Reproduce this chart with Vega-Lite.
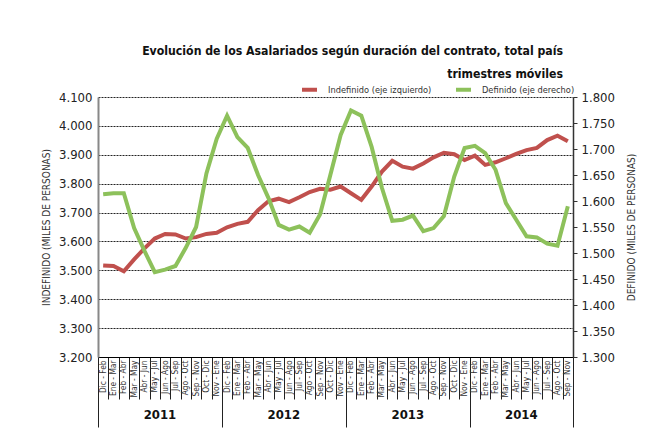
{
  "$schema": "https://vega.github.io/schema/vega-lite/v6.json",
  "width": 475,
  "height": 260,
  "autosize": {"type": "none"},
  "padding": {"left": 98, "top": 97, "right": 72, "bottom": 84},
  "background": "white",
  "title": {
    "text": ["Evolución de los Asalariados según duración del contrato, total país", "trimestres móviles"],
    "anchor": "end",
    "frame": "group",
    "fontSize": 12.2,
    "font": "DejaVu Sans Condensed, Liberation Sans, sans-serif",
    "fontWeight": "bold",
    "color": "#111",
    "offset": 0,
    "dx": -10,
    "lineHeight": 23
  },
  "config": {
    "font": "DejaVu Sans Condensed, Liberation Sans, sans-serif",
    "view": {"stroke": null},
    "axis": {"labelColor": "#222", "titleColor": "#333", "titleFontWeight": "normal"}
  },
  "datasets": {
    "series": [
      {"per": "Dic - Feb 2011", "ind": 3517, "def": 1613},
      {"per": "Ene - Mar 2011", "ind": 3515, "def": 1615},
      {"per": "Feb - Abr 2011", "ind": 3497, "def": 1615},
      {"per": "Mar - May 2011", "ind": 3538, "def": 1548},
      {"per": "Abr - Jun 2011", "ind": 3576, "def": 1504},
      {"per": "May - Jul 2011", "ind": 3610, "def": 1463},
      {"per": "Jun - Ago 2011", "ind": 3626, "def": 1468},
      {"per": "Jul - Sep 2011", "ind": 3624, "def": 1475},
      {"per": "Ago - Oct 2011", "ind": 3610, "def": 1510},
      {"per": "Sep - Nov 2011", "ind": 3615, "def": 1550},
      {"per": "Oct - Dic 2011", "ind": 3626, "def": 1653},
      {"per": "Nov - Ene 2011", "ind": 3630, "def": 1720},
      {"per": "Dic - Feb 2012", "ind": 3649, "def": 1764},
      {"per": "Ene - Mar 2012", "ind": 3661, "def": 1723},
      {"per": "Feb - Abr 2012", "ind": 3668, "def": 1702},
      {"per": "Mar - May 2012", "ind": 3708, "def": 1650},
      {"per": "Abr - Jun 2012", "ind": 3739, "def": 1606},
      {"per": "May - Jul 2012", "ind": 3748, "def": 1554},
      {"per": "Jun - Ago 2012", "ind": 3736, "def": 1545},
      {"per": "Jul - Sep 2012", "ind": 3753, "def": 1551},
      {"per": "Ago - Oct 2012", "ind": 3771, "def": 1539},
      {"per": "Sep - Nov 2012", "ind": 3782, "def": 1574},
      {"per": "Oct - Dic 2012", "ind": 3779, "def": 1650},
      {"per": "Nov - Ene 2012", "ind": 3790, "def": 1727},
      {"per": "Dic - Feb 2013", "ind": 3767, "def": 1774},
      {"per": "Ene - Mar 2013", "ind": 3744, "def": 1764},
      {"per": "Feb - Abr 2013", "ind": 3790, "def": 1704},
      {"per": "Mar - May 2013", "ind": 3842, "def": 1625},
      {"per": "Abr - Jun 2013", "ind": 3879, "def": 1562},
      {"per": "May - Jul 2013", "ind": 3859, "def": 1564},
      {"per": "Jun - Ago 2013", "ind": 3852, "def": 1572},
      {"per": "Jul - Sep 2013", "ind": 3870, "def": 1542},
      {"per": "Ago - Oct 2013", "ind": 3891, "def": 1548},
      {"per": "Sep - Nov 2013", "ind": 3907, "def": 1571},
      {"per": "Oct - Dic 2013", "ind": 3902, "def": 1647},
      {"per": "Nov - Ene 2013", "ind": 3882, "def": 1702},
      {"per": "Dic - Feb 2014", "ind": 3897, "def": 1706},
      {"per": "Ene - Mar 2014", "ind": 3865, "def": 1692},
      {"per": "Feb - Abr 2014", "ind": 3874, "def": 1660},
      {"per": "Mar - May 2014", "ind": 3888, "def": 1596},
      {"per": "Abr - Jun 2014", "ind": 3903, "def": 1564},
      {"per": "May - Jul 2014", "ind": 3916, "def": 1532},
      {"per": "Jun - Ago 2014", "ind": 3924, "def": 1530},
      {"per": "Jul - Sep 2014", "ind": 3951, "def": 1518},
      {"per": "Ago - Oct 2014", "ind": 3966, "def": 1514},
      {"per": "Sep - Nov 2014", "ind": 3947, "def": 1590}
    ],
    "years": [
      {"per": "May - Jul 2011", "year": "2011"},
      {"per": "May - Jul 2012", "year": "2012"},
      {"per": "May - Jul 2013", "year": "2013"},
      {"per": "Abr - Jun 2014", "year": "2014"}
    ]
  },
  "data": {"name": "series"},
  "layer": [
    {
      "layer": [
        {
          "mark": {"type": "line", "strokeWidth": 4},
          "encoding": {
            "x": {
              "field": "per", "type": "ordinal", "sort": null,
              "scale": {"type": "band", "paddingInner": 0, "paddingOuter": 0},
              "axis": {
                "title": null,
                "labelAngle": 270,
                "labelAlign": "right",
                "labelBaseline": "middle",
                "labelExpr": "datum.value ? slice(datum.value, 0, -5) : ''",
                "labelFontSize": 8.3,
                "labelColor": "#333",
                "tickBand": "extent",
                "tickColor": "#222",
                "tickSize": {"condition": {"test": "!datum.value || indexof(datum.value, 'Nov - Ene') == 0 || datum.value == 'Sep - Nov 2014'", "value": 70}, "value": 42},
                "labelPadding": {"condition": {"test": "!datum.value || indexof(datum.value, 'Nov - Ene') == 0 || datum.value == 'Sep - Nov 2014'", "value": -67}, "value": -39},
                "domainColor": "#000",
                "grid": false
              }
            },
            "y": {
              "field": "ind", "type": "quantitative",
              "scale": {"domain": [3200, 4100], "nice": false, "zero": false},
              "axis": {
                "title": "INDEFINIDO (MILES DE PERSONAS)",
                "titleFontSize": 10,
                "titlePadding": 7,
                "values": [3200, 3300, 3400, 3500, 3600, 3700, 3800, 3900, 4000, 4100],
                "labelExpr": "replace(format(datum.value, ','), ',', '.')",
                "labelOverlap": false,
                "labelFontSize": 13,
                "labelPadding": 6,
                "grid": true,
                "gridDash": [2, 1],
                "gridColor": "#222",
                "gridWidth": 1,
                "ticks": false,
                "domainColor": "#888",
                "domainWidth": 2
              }
            },
            "color": {
              "datum": "Indefinido (eje izquierdo)", "type": "nominal",
              "scale": {"domain": ["Indefinido (eje izquierdo)", "Definido (eje derecho)"], "range": ["#c0504d", "#8dc15b"]},
              "legend": {
                "orient": "none", "legendX": 202, "legendY": -17,
                "direction": "horizontal", "title": null,
                "symbolType": "stroke", "symbolStrokeWidth": 4, "symbolSize": 225,
                "labelFontSize": 9.2, "labelColor": "#333", "labelOffset": 9, "columnPadding": 16
              }
            }
          }
        },
        {
          "data": {"name": "years"},
          "mark": {"type": "text", "fontSize": 13, "fontWeight": "bold", "color": "#111", "baseline": "middle", "align": "center"},
          "encoding": {
            "x": {"field": "per", "type": "ordinal", "sort": null, "bandPosition": 1},
            "y": {
              "datum": 3000, "type": "quantitative",
              "scale": {"domain": [3200, 4100], "nice": false, "zero": false},
              "axis": {
                "title": "INDEFINIDO (MILES DE PERSONAS)",
                "titleFontSize": 10,
                "titlePadding": 7,
                "values": [3200, 3300, 3400, 3500, 3600, 3700, 3800, 3900, 4000, 4100],
                "labelExpr": "replace(format(datum.value, ','), ',', '.')",
                "labelOverlap": false,
                "labelFontSize": 13,
                "labelPadding": 6,
                "grid": true,
                "gridDash": [2, 1],
                "gridColor": "#222",
                "gridWidth": 1,
                "ticks": false,
                "domainColor": "#888",
                "domainWidth": 2
              }
            },
            "text": {"field": "year"}
          }
        }
      ]
    },
    {
      "mark": {"type": "line", "strokeWidth": 4},
      "encoding": {
        "x": {"field": "per", "type": "ordinal", "sort": null},
        "y": {
          "field": "def", "type": "quantitative",
          "scale": {"domain": [1300, 1800], "nice": false, "zero": false},
          "axis": {
            "orient": "right",
            "title": "DEFINIDO (MILES DE PERSONAS)",
            "titleAngle": 270,
            "titleFontSize": 10,
            "titlePadding": 22,
            "values": [1300, 1350, 1400, 1450, 1500, 1550, 1600, 1650, 1700, 1750, 1800],
            "labelExpr": "replace(format(datum.value, ','), ',', '.')",
            "labelOverlap": false,
            "labelFontSize": 13,
            "labelPadding": 4,
            "grid": false,
            "tickSize": 4,
            "tickColor": "#333",
            "domainColor": "#333",
            "domainWidth": 1.5
          }
        },
        "color": {"datum": "Definido (eje derecho)", "type": "nominal"}
      }
    }
  ],
  "resolve": {"scale": {"y": "independent"}}
}
